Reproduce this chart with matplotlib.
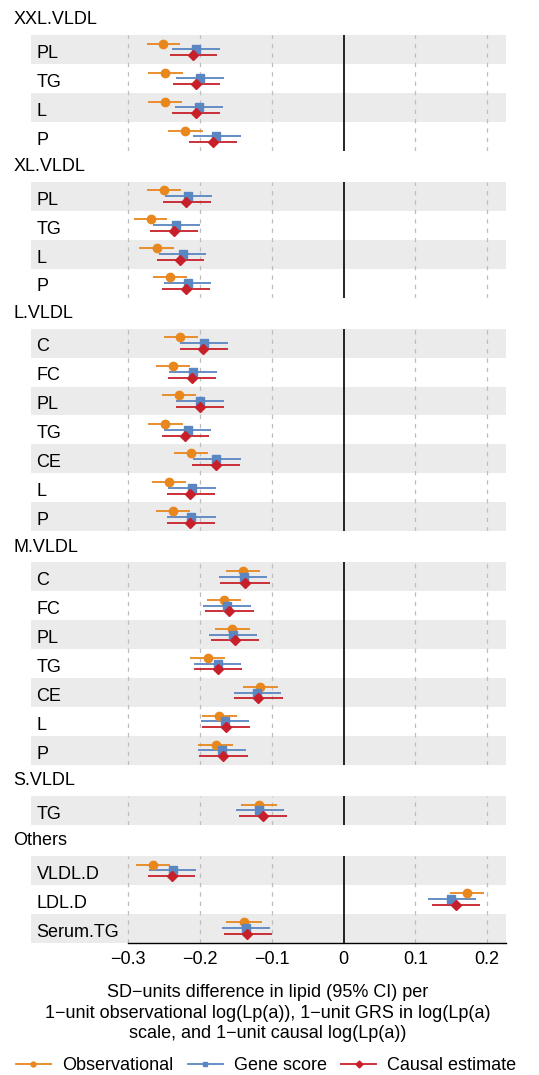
import numpy as np
import matplotlib
matplotlib.use("Agg")
import matplotlib.pyplot as plt
from matplotlib.lines import Line2D

plt.rcParams["font.family"] = ["Liberation Sans", "DejaVu Sans"]
plt.rcParams["font.size"] = 13

# groups and rows, top to bottom
group_names = ["XXL.VLDL", "XL.VLDL", "L.VLDL", "M.VLDL", "S.VLDL", "Others"]
group_sizes = [4, 4, 7, 7, 1, 3]
row_labels = ["PL", "TG", "L", "P",
              "PL", "TG", "L", "P",
              "C", "FC", "PL", "TG", "CE", "L", "P",
              "C", "FC", "PL", "TG", "CE", "L", "P",
              "TG",
              "VLDL.D", "LDL.D", "Serum.TG"]

obs_est = [-0.251, -0.248, -0.249, -0.220,
           -0.250, -0.268, -0.260, -0.242,
           -0.227, -0.237, -0.229, -0.248, -0.212, -0.243, -0.237,
           -0.140, -0.166, -0.155, -0.189, -0.116, -0.173, -0.178,
           -0.118,
           -0.265, 0.172, -0.139]
obs_lo = [-0.274, -0.272, -0.272, -0.244,
          -0.273, -0.291, -0.284, -0.265,
          -0.250, -0.261, -0.253, -0.272, -0.236, -0.266, -0.261,
          -0.164, -0.190, -0.179, -0.214, -0.140, -0.197, -0.202,
          -0.142,
          -0.289, 0.148, -0.163]
obs_hi = [-0.227, -0.224, -0.225, -0.196,
          -0.226, -0.245, -0.236, -0.218,
          -0.203, -0.214, -0.205, -0.224, -0.188, -0.219, -0.214,
          -0.116, -0.142, -0.130, -0.165, -0.091, -0.148, -0.154,
          -0.093,
          -0.241, 0.196, -0.114]

gene_est = [-0.205, -0.200, -0.201, -0.177,
            -0.216, -0.233, -0.224, -0.217,
            -0.194, -0.210, -0.200, -0.217, -0.177, -0.211, -0.212,
            -0.139, -0.162, -0.154, -0.175, -0.120, -0.165, -0.169,
            -0.117,
            -0.238, 0.150, -0.136]
gene_lo = [-0.239, -0.233, -0.234, -0.210,
           -0.249, -0.265, -0.257, -0.250,
           -0.227, -0.243, -0.233, -0.250, -0.210, -0.244, -0.245,
           -0.173, -0.195, -0.187, -0.208, -0.153, -0.198, -0.202,
           -0.149,
           -0.271, 0.117, -0.169]
gene_hi = [-0.172, -0.167, -0.168, -0.143,
           -0.183, -0.200, -0.191, -0.184,
           -0.161, -0.176, -0.166, -0.184, -0.143, -0.177, -0.178,
           -0.106, -0.129, -0.120, -0.143, -0.087, -0.131, -0.136,
           -0.083,
           -0.205, 0.184, -0.103]

causal_est = [-0.209, -0.205, -0.206, -0.181,
              -0.219, -0.236, -0.227, -0.219,
              -0.195, -0.211, -0.200, -0.220, -0.177, -0.213, -0.213,
              -0.137, -0.160, -0.151, -0.175, -0.119, -0.163, -0.168,
              -0.112,
              -0.239, 0.156, -0.134]
causal_lo = [-0.242, -0.238, -0.239, -0.215,
             -0.251, -0.269, -0.260, -0.252,
             -0.228, -0.244, -0.233, -0.252, -0.211, -0.246, -0.246,
             -0.172, -0.193, -0.185, -0.208, -0.152, -0.197, -0.201,
             -0.146,
             -0.272, 0.123, -0.167]
causal_hi = [-0.176, -0.172, -0.172, -0.148,
             -0.185, -0.203, -0.194, -0.186,
             -0.161, -0.177, -0.167, -0.187, -0.144, -0.179, -0.179,
             -0.103, -0.125, -0.117, -0.141, -0.084, -0.130, -0.133,
             -0.078,
             -0.207, 0.190, -0.100]

x_ticks = [-0.3, -0.2, -0.1, 0, 0.1, 0.2]
x_tick_labels = ["\u22120.3", "\u22120.2", "\u22120.1", "0", "0.1", "0.2"]
series_names = ["Observational", "Gene score", "Causal estimate"]

ORANGE = "#E8871E"
BLUE = "#5A86C2"
RED = "#C8202A"
BAND = "#EBEBEB"

series = [
    (obs_est, obs_lo, obs_hi, ORANGE, "o", 6.0, -0.2),
    (gene_est, gene_lo, gene_hi, BLUE, "s", 5.5, 0.0),
    (causal_est, causal_lo, causal_hi, RED, "D", 5.5, 0.2),
]

W, H = 539, 1075
fig = plt.figure(figsize=(W / 100, H / 100), dpi=100)

left_px, right_px = 31, 505.5
row_h, gap = 28.95, 31
xmin, xmax = -0.435, 0.2255

top = 35
start = 0
for gi, (name, n) in enumerate(zip(group_names, group_sizes)):
    h = n * row_h
    ax = fig.add_axes([left_px / W, 1 - (top + h) / H,
                       (right_px - left_px) / W, h / H])
    ax.set_xlim(xmin, xmax)
    ax.set_ylim(n - 0.5, -0.5)

    for i in range(0, n, 2):
        ax.axhspan(i - 0.5, i + 0.5, color=BAND, lw=0, zorder=0)
    for xv in x_ticks:
        if xv == 0:
            ax.axvline(xv, color="black", lw=1.2, zorder=1)
        else:
            ax.axvline(xv, color="#BDBDBD", lw=0.9, ls=(0, (3.5, 4)), zorder=1)

    y = np.arange(n)
    for est, lo, hi, col, mk, ms, off in series:
        ax.hlines(y + off, lo[start:start + n], hi[start:start + n],
                  color=col, lw=1.3, zorder=2)
        ax.plot(est[start:start + n], y + off, ls="none", marker=mk,
                ms=ms, color=col, zorder=3)

    for i in range(n):
        ax.annotate(row_labels[start + i], xy=(0, i),
                    xycoords=("axes fraction", "data"),
                    xytext=(4, -6), textcoords="offset points",
                    va="baseline", ha="left")

    fig.text(13.3 / W, 1 - (top - 10.7) / H, name, va="baseline", ha="left")

    ax.set_yticks([])
    for sp in ["top", "left", "right"]:
        ax.spines[sp].set_visible(False)
    if gi == len(group_names) - 1:
        ax.spines["bottom"].set_bounds(-0.3, xmax)
        ax.spines["bottom"].set_linewidth(1.0)
        ax.set_xticks(x_ticks)
        ax.set_xticklabels(x_tick_labels)
        ax.tick_params(axis="x", length=0, pad=6)
    else:
        ax.spines["bottom"].set_visible(False)
        ax.set_xticks([])

    start += n
    top += h + gap

fig.text(268 / W, 1 - 1013 / H,
         "SD\u2212units difference in lipid (95% CI) per\n"
         "1\u2212unit observational log(Lp(a)), 1\u2212unit GRS in log(Lp(a)\n"
         "scale, and 1\u2212unit causal log(Lp(a))",
         ha="center", va="center", linespacing=1.3)

handles = [Line2D([], [], color=s[3], marker=s[4], ms=3.5, lw=1.3)
           for s in series]
fig.legend(handles, series_names, loc="center",
           bbox_to_anchor=(266 / W, 1 - 1066 / H), ncol=3, frameon=False,
           handlelength=1.95, handletextpad=0.6, columnspacing=0.8,
           borderpad=0, borderaxespad=0)

fig.savefig("out.png", dpi=100)
